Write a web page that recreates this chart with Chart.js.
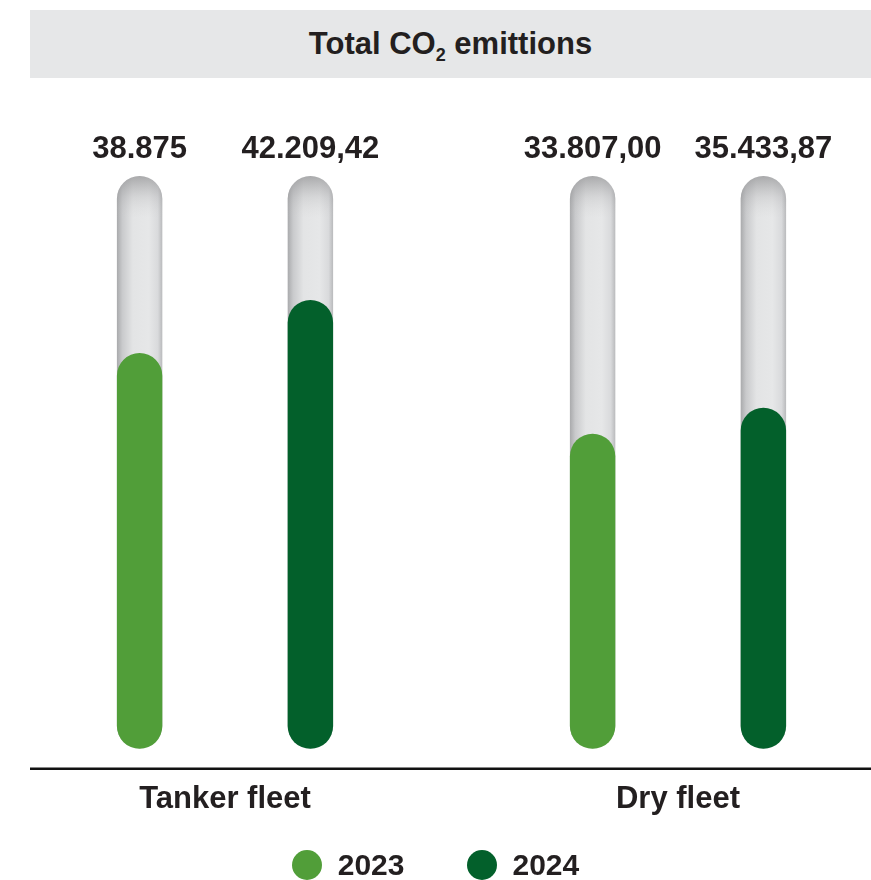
<!DOCTYPE html>
<html>
<head>
<meta charset="utf-8">
<script src="https://cdn.jsdelivr.net/npm/chart.js@4.4.1/dist/chart.umd.min.js"></script>
<style>
  html, body { margin:0; padding:0; background:#ffffff; width:871px; height:880px; overflow:hidden; font-family:"Liberation Sans", Arial, sans-serif; }
  #wrap { position:relative; width:871px; height:880px; }
  #chart { position:absolute; left:0; top:0; }
  #title { position:absolute; left:30px; top:10px; width:841px; height:68px; background:#e6e7e8;
           display:flex; align-items:center; justify-content:center; }
  #title span.t { font-weight:bold; font-size:31px; color:#231f20; white-space:nowrap; }
  #title sub { font-size:18px; vertical-align:-7px; line-height:0; }
  #legend { position:absolute; left:0; top:848px; width:871px; height:34px; display:flex; justify-content:center; gap:62px; }
  .li { display:flex; align-items:center; font-weight:bold; font-size:30px; color:#231f20; line-height:34px; }
  .dot { width:30px; height:30px; border-radius:50%; margin-right:16px; }
</style>
</head>
<body>
<div id="wrap">
  <canvas id="chart" width="871" height="880"></canvas>
  <div id="title"><span class="t">Total CO<sub>2</sub> emittions</span></div>
  <div id="legend"></div>
</div>
<script>
// ---- data ----
const categories = ["Tanker fleet", "Dry fleet"];
const seriesNames = ["2023", "2024"];
const seriesColors = ["#519e39", "#03602b"];
const values2023 = [38875, 33807.00];
const values2024 = [42209.42, 35433.87];
const valueLabels2023 = ["38.875", "33.807,00"];
const valueLabels2024 = ["42.209,42", "35.433,87"];
const trackValues = [50000, 50000];
const axisMin = 14000;
const axisMax = 50000;

const textColor = "#231f20";
const labelFont = '"Liberation Sans", Arial, sans-serif';

// ---- legend (HTML) ----
const legendEl = document.getElementById("legend");
seriesNames.forEach((name, i) => {
  const item = document.createElement("div");
  item.className = "li";
  const dot = document.createElement("span");
  dot.className = "dot";
  dot.style.background = seriesColors[i];
  item.appendChild(dot);
  item.appendChild(document.createTextNode(name));
  legendEl.appendChild(item);
});

// ---- plugins ----
const tubePlugin = {
  id: "tubeStyle",
  beforeDatasetsDraw(chart) {
    const ctx = chart.ctx;
    chart.data.datasets.forEach((ds, di) => {
      if (!ds.tubeKind) return;
      const meta = chart.getDatasetMeta(di);
      meta.data.forEach(el => {
        let g;
        if (ds.tubeKind === "body") {
          const l = el.x - el.width / 2, r = el.x + el.width / 2;
          g = ctx.createLinearGradient(l, 0, r, 0);
          g.addColorStop(0, "#a9aaac");
          g.addColorStop(0.12, "#c9cacc");
          g.addColorStop(0.35, "#e3e4e5");
          g.addColorStop(0.7, "#e6e7e8");
          g.addColorStop(0.9, "#d9dadc");
          g.addColorStop(1, "#b9babc");
        } else {
          const top = el.y;
          g = ctx.createLinearGradient(0, top, 0, top + 42);
          g.addColorStop(0, "rgba(120,120,122,0.55)");
          g.addColorStop(0.5, "rgba(150,150,152,0.2)");
          g.addColorStop(1, "rgba(200,200,200,0)");
        }
        el.options = Object.assign({}, el.options, { backgroundColor: g });
      });
    });
  }
};

const valueLabelPlugin = {
  id: "valueLabels",
  afterDatasetsDraw(chart) {
    const ctx = chart.ctx;
    ctx.save();
    ctx.font = "bold 31px " + labelFont;
    ctx.fillStyle = textColor;
    ctx.textAlign = "center";
    ctx.textBaseline = "middle";
    chart.data.datasets.forEach((ds, di) => {
      if (!ds.valueLabels) return;
      const meta = chart.getDatasetMeta(di);
      meta.data.forEach((el, i) => {
        ctx.fillText(ds.valueLabels[i], el.x, chart.chartArea.top - 27);
      });
    });
    ctx.restore();
  }
};

const baselinePlugin = {
  id: "baseline",
  afterDraw(chart) {
    const ctx = chart.ctx;
    const y = chart.chartArea.bottom + 20;
    ctx.save();
    ctx.strokeStyle = "#111111";
    ctx.lineWidth = 2.5;
    ctx.beginPath();
    ctx.moveTo(30, y);
    ctx.lineTo(chart.width, y);
    ctx.stroke();
    ctx.restore();
  }
};

const barCommon = {
  categoryPercentage: 0.754,
  barPercentage: 0.266,
  borderRadius: 200,
  borderSkipped: false,
  borderWidth: 0,
  base: axisMin,
  clip: false
};

new Chart(document.getElementById("chart"), {
  type: "bar",
  data: {
    labels: categories,
    datasets: [
      Object.assign({ label: seriesNames[0], data: values2023, backgroundColor: seriesColors[0], stack: "s2023", order: 0, valueLabels: valueLabels2023 }, barCommon),
      Object.assign({ label: seriesNames[1], data: values2024, backgroundColor: seriesColors[1], stack: "s2024", order: 0, valueLabels: valueLabels2024 }, barCommon),
      Object.assign({ label: "track-shade-2023", data: trackValues, backgroundColor: "rgba(0,0,0,0)", stack: "s2023", order: 1, tubeKind: "shade" }, barCommon),
      Object.assign({ label: "track-shade-2024", data: trackValues, backgroundColor: "rgba(0,0,0,0)", stack: "s2024", order: 1, tubeKind: "shade" }, barCommon),
      Object.assign({ label: "track-2023", data: trackValues, backgroundColor: "#e6e7e8", stack: "s2023", order: 2, tubeKind: "body" }, barCommon),
      Object.assign({ label: "track-2024", data: trackValues, backgroundColor: "#e6e7e8", stack: "s2024", order: 2, tubeKind: "body" }, barCommon)
    ]
  },
  options: {
    responsive: false,
    animation: false,
    events: [],
    layout: { padding: { left: 225, right: 193, top: 176, bottom: 30 } },
    plugins: {
      legend: { display: false },
      tooltip: { enabled: false },
      title: { display: false }
    },
    scales: {
      x: {
        type: "category",
        offset: false,
        grid: { display: false, drawTicks: false },
        border: { display: false },
        ticks: { color: textColor, font: { family: labelFont, size: 31, weight: "bold" }, padding: 32, maxRotation: 0, autoSkip: false }
      },
      y: {
        min: axisMin,
        max: axisMax,
        stacked: false,
        display: false,
        grid: { display: false }
      }
    }
  },
  plugins: [tubePlugin, valueLabelPlugin, baselinePlugin]
});
</script>
</body>
</html>
